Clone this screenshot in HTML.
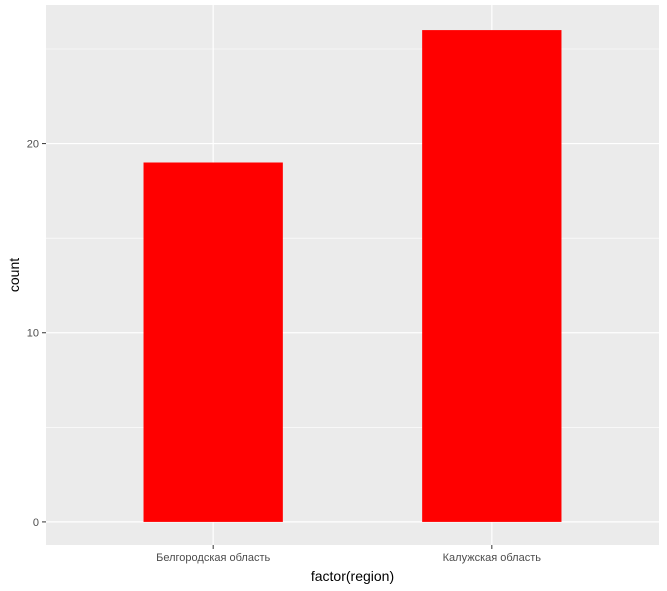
<!DOCTYPE html>
<html><head><meta charset="utf-8"><style>body{margin:0;background:#fff}svg{display:block;font-family:"Liberation Sans",sans-serif}</style></head>
<body>
<svg id="chart" width="667" height="591"></svg>
<script>
const categories = ["Белгородская область", "Калужская область"];
const counts = [19, 26];
const yTicks = [0, 10, 20];
const yMinor = [5, 15, 25];
const NS = "http://www.w3.org/2000/svg";
const svg = document.getElementById("chart");
const L = 46, R = 659, T = 5, B = 545;
const ST = 5.5, SB = 546.5;
const yMax = 26 * 1.05, yMin = -26 * 0.05;
const y = v => SB - (v - yMin) / (yMax - yMin) * (SB - ST);
const step = (R - L) / (categories.length - 1 + 1.2);
const x = i => L + step * (0.6 + i);
function mk(tag, attrs, parent) {
  const e = document.createElementNS(NS, tag);
  for (const k in attrs) e.setAttribute(k, attrs[k]);
  (parent || svg).appendChild(e);
  return e;
}
const panel = mk("rect", {x: L, y: T, width: R - L, height: B - T, fill: "#ebebeb"});


yMinor.forEach(v => {
  const g = mk("line", {x1: L, x2: R, y1: y(v), y2: y(v), stroke: "#fff", "stroke-width": 0.6});
  
  
});
yTicks.forEach(v => {
  const g = mk("line", {x1: L, x2: R, y1: y(v), y2: y(v), stroke: "#fff", "stroke-width": 1.2});
  
  
  const t = mk("line", {x1: L - 4, x2: L, y1: y(v), y2: y(v), stroke: "#333", "stroke-width": 1});
  
  
  const lb = mk("text", {x: L - 7, y: y(v) + 4, "text-anchor": "end", "font-size": 11, fill: "#4d4d4d"});
  lb.textContent = v;
  
  
});
categories.forEach((c, i) => {
  const g = mk("line", {x1: x(i), x2: x(i), y1: T, y2: B, stroke: "#fff", "stroke-width": 1.2});
  
  
});
categories.forEach((c, i) => {
  const w = step * 0.5;
  const b = mk("rect", {x: x(i) - w / 2, y: y(counts[i]), width: w, height: y(0) - y(counts[i]), fill: "#ff0000"});
  
  
  const t = mk("line", {x1: x(i), x2: x(i), y1: B, y2: B + 4, stroke: "#333", "stroke-width": 1});
  
  
  const lb = mk("text", {x: x(i), y: B + 16, "text-anchor": "middle", "font-size": 11, fill: "#4d4d4d"});
  lb.textContent = c;
  
  
});
const xt = mk("text", {x: (L + R) / 2, y: 581, "text-anchor": "middle", "font-size": 14, fill: "#000"});
xt.textContent = "factor(region)";


const yt = mk("text", {x: 0, y: 0, "text-anchor": "middle", "font-size": 14, fill: "#000", transform: `translate(19,${(T + B) / 2}) rotate(-90)`});
yt.textContent = "count";


</script>
</body></html>
